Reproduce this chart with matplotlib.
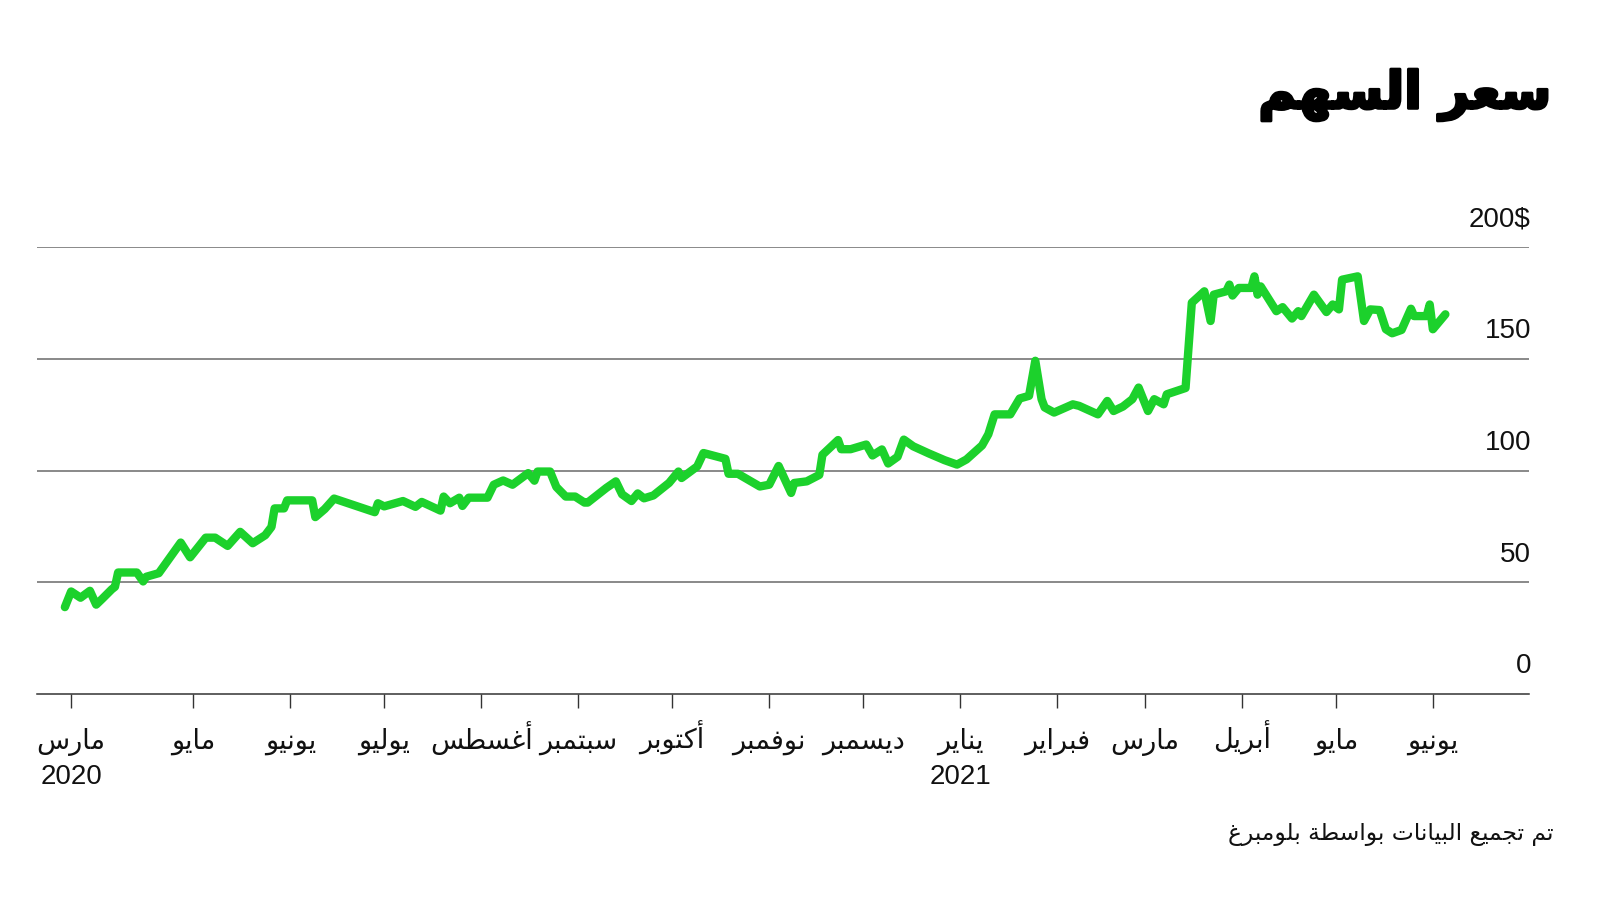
import matplotlib
matplotlib.use("Agg")
import matplotlib.pyplot as plt
import matplotlib.patheffects as pe
import pandas as pd

# ---------------- data ----------------
dates = [
    "2020-03-21", "2020-03-23", "2020-03-26", "2020-03-29", "2020-03-31",
    "2020-04-02", "2020-04-05", "2020-04-06", "2020-04-07", "2020-04-13",
    "2020-04-15", "2020-04-16", "2020-04-20", "2020-04-27", "2020-04-30",
    "2020-05-05", "2020-05-08", "2020-05-12", "2020-05-16", "2020-05-20",
    "2020-05-24", "2020-05-26", "2020-05-27", "2020-05-30", "2020-05-31",
    "2020-06-08", "2020-06-09", "2020-06-12", "2020-06-15", "2020-06-28",
    "2020-06-29", "2020-07-01", "2020-07-07", "2020-07-11", "2020-07-13",
    "2020-07-19", "2020-07-20", "2020-07-22", "2020-07-25", "2020-07-26",
    "2020-07-28", "2020-08-03", "2020-08-05", "2020-08-08", "2020-08-11",
    "2020-08-16", "2020-08-18", "2020-08-19", "2020-08-23", "2020-08-25",
    "2020-08-28", "2020-08-31", "2020-09-03", "2020-09-04", "2020-09-10",
    "2020-09-13", "2020-09-15", "2020-09-18", "2020-09-20", "2020-09-22",
    "2020-09-25", "2020-09-30", "2020-10-03", "2020-10-04", "2020-10-09",
    "2020-10-11", "2020-10-18", "2020-10-19", "2020-10-22", "2020-10-29",
    "2020-11-01", "2020-11-04", "2020-11-08", "2020-11-09", "2020-11-13",
    "2020-11-17", "2020-11-18", "2020-11-23", "2020-11-24", "2020-11-27",
    "2020-12-02", "2020-12-04", "2020-12-07", "2020-12-09", "2020-12-12",
    "2020-12-14", "2020-12-17", "2020-12-22", "2020-12-27", "2020-12-31",
    "2021-01-03", "2021-01-08", "2021-01-10", "2021-01-12", "2021-01-17",
    "2021-01-20", "2021-01-23", "2021-01-25", "2021-01-27", "2021-01-28",
    "2021-01-31", "2021-02-06", "2021-02-08", "2021-02-14", "2021-02-17",
    "2021-02-19", "2021-02-22", "2021-02-25", "2021-02-27", "2021-03-02",
    "2021-03-04", "2021-03-07", "2021-03-08", "2021-03-14", "2021-03-16",
    "2021-03-20", "2021-03-22", "2021-03-23", "2021-03-27", "2021-03-28",
    "2021-03-29", "2021-03-31", "2021-04-04", "2021-04-05", "2021-04-06",
    "2021-04-07", "2021-04-12", "2021-04-14", "2021-04-17", "2021-04-19",
    "2021-04-20", "2021-04-24", "2021-04-28", "2021-04-30", "2021-05-02",
    "2021-05-03", "2021-05-08", "2021-05-10", "2021-05-12", "2021-05-15",
    "2021-05-17", "2021-05-19", "2021-05-22", "2021-05-25", "2021-05-26",
    "2021-05-30", "2021-05-31", "2021-06-01", "2021-06-05",
]
prices = [
    38.9, 45.9, 43.1, 46.2, 40.0,
    42.7, 46.9, 48.0, 54.4, 54.4,
    50.4, 52.5, 54.1, 67.8, 61.2,
    70.0, 70.0, 66.3, 72.6, 67.5,
    71.1, 74.8, 83.1, 83.1, 86.7,
    86.7, 79.2, 82.8, 87.5, 81.4,
    85.4, 84.0, 86.4, 83.8, 86.0,
    82.1, 88.4, 85.4, 87.9, 84.2,
    87.9, 87.9, 93.7, 95.6, 93.7,
    98.9, 95.5, 99.6, 99.6, 92.7,
    88.4, 88.4, 85.7, 85.7, 92.3,
    95.2, 89.4, 86.4, 89.8, 87.6,
    88.9, 94.5, 99.6, 96.7, 101.9,
    107.9, 105.3, 98.6, 98.6, 92.9,
    93.7, 102.1, 90.0, 94.5, 95.2,
    98.1, 107.1, 113.7, 109.6, 109.6,
    111.7, 106.8, 109.5, 103.2, 106.2,
    113.9, 110.9, 107.7, 104.7, 102.7,
    105.0, 111.3, 116.3, 125.2, 125.2,
    132.3, 133.5, 149.2, 132.0, 128.3,
    126.0, 129.7, 129.0, 125.2, 131.2,
    126.7, 128.7, 132.0, 137.2, 126.7,
    132.0, 129.7, 134.2, 137.0, 175.2,
    180.3, 167.0, 178.8, 180.3, 183.3,
    178.4, 181.8, 181.8, 187.0, 178.8,
    182.5, 171.4, 173.2, 168.1, 171.4,
    169.2, 178.8, 171.0, 174.4, 172.2,
    185.5, 187.0, 167.0, 172.2, 171.9,
    163.3, 161.5, 163.0, 172.5, 169.2,
    169.2, 174.4, 163.3, 170.0,
]

tick_dates = [
    "2020-03-23", "2020-05-01", "2020-06-01", "2020-07-01", "2020-08-01",
    "2020-09-01", "2020-10-01", "2020-11-01", "2020-12-01", "2021-01-01",
    "2021-02-01", "2021-03-01", "2021-04-01", "2021-05-01", "2021-06-01",
]
month_names = [
    "مارس", "مايو", "يونيو", "يوليو", "أغسطس", "سبتمبر", "أكتوبر",
    "نوفمبر", "ديسمبر", "يناير", "فبراير", "مارس", "أبريل", "مايو", "يونيو",
]
year_labels = ["2020", "", "", "", "", "", "", "", "", "2021", "", "", "", "", ""]

y_values = [0, 50, 100, 150, 200]
y_labels = ["0", "50", "100", "150", "200$"]

title = "سعر السهم"
source = "تم تجميع البيانات بواسطة بلومبرغ"

# ---------------- Arabic shaping (presentation forms, visual order) -------
FORMS = {
    "\u0627": ("\uFE8D", "\uFE8E", None, None),
    "\u0623": ("\uFE83", "\uFE84", None, None),
    "\u0628": ("\uFE8F", "\uFE90", "\uFE91", "\uFE92"),
    "\u0629": ("\uFE93", "\uFE94", None, None),
    "\u062A": ("\uFE95", "\uFE96", "\uFE97", "\uFE98"),
    "\u062C": ("\uFE9D", "\uFE9E", "\uFE9F", "\uFEA0"),
    "\u062F": ("\uFEA9", "\uFEAA", None, None),
    "\u0631": ("\uFEAD", "\uFEAE", None, None),
    "\u0633": ("\uFEB1", "\uFEB2", "\uFEB3", "\uFEB4"),
    "\u0637": ("\uFEC1", "\uFEC2", "\uFEC3", "\uFEC4"),
    "\u0639": ("\uFEC9", "\uFECA", "\uFECB", "\uFECC"),
    "\u063A": ("\uFECD", "\uFECE", "\uFECF", "\uFED0"),
    "\u0641": ("\uFED1", "\uFED2", "\uFED3", "\uFED4"),
    "\u0643": ("\uFED9", "\uFEDA", "\uFEDB", "\uFEDC"),
    "\u0644": ("\uFEDD", "\uFEDE", "\uFEDF", "\uFEE0"),
    "\u0645": ("\uFEE1", "\uFEE2", "\uFEE3", "\uFEE4"),
    "\u0646": ("\uFEE5", "\uFEE6", "\uFEE7", "\uFEE8"),
    "\u0647": ("\uFEE9", "\uFEEA", "\uFEEB", "\uFEEC"),
    "\u0648": ("\uFEED", "\uFEEE", None, None),
    "\u064A": ("\uFEF1", "\uFEF2", "\uFEF3", "\uFEF4"),
}


def ar(text):
    chars = list(text)
    out = []
    for i, c in enumerate(chars):
        if c not in FORMS:
            out.append(c)
            continue
        prev = chars[i - 1] if i > 0 else None
        nxt = chars[i + 1] if i + 1 < len(chars) else None
        joins_prev = prev in FORMS and FORMS[prev][2] is not None
        joins_next = FORMS[c][2] is not None and nxt in FORMS
        iso, fin, ini, med = FORMS[c]
        if joins_prev and joins_next:
            out.append(med)
        elif joins_prev:
            out.append(fin)
        elif joins_next:
            out.append(ini)
        else:
            out.append(iso)
    return "".join(reversed(out))


FAM = ["Liberation Sans", "DejaVu Sans"]

# ---------------- figure ----------------
W, H = 1600, 900
fig = plt.figure(figsize=(16, 9), dpi=100)
fig.patch.set_facecolor("white")
ax_left, ax_right = 36.7, 1528.6
ax_top, ax_bottom = 247.3, 694.0
ax = fig.add_axes([ax_left / W, 1 - ax_bottom / H,
                   (ax_right - ax_left) / W, (ax_bottom - ax_top) / H])

x = pd.to_datetime(dates)
ax.plot(x, prices, color="#1CD12C", lw=6.0, solid_joinstyle="round",
        solid_capstyle="round", zorder=3)

ax.set_ylim(0, 200)
ax.set_xlim(pd.Timestamp("2020-03-12"), pd.Timestamp("2021-07-01 14:00"))

for sp in ["top", "left", "right"]:
    ax.spines[sp].set_visible(False)
ax.spines["bottom"].set_color("#333333")
ax.spines["bottom"].set_linewidth(1.1)
for v in y_values[1:]:
    ax.axhline(v, color="#6a6a6a", lw=1.1, zorder=1)

ax.set_yticks([])
tick_x = pd.to_datetime(tick_dates)
ax.set_xticks(tick_x)
ax.set_xticklabels([])
ax.tick_params(axis="x", length=10, width=1.0, color="#333333", pad=8)

# month labels (baseline-aligned) and years
PT = 72.0 / 100.0  # points per pixel
for tx, m, yr in zip(tick_x, month_names, year_labels):
    ax.annotate(ar(m), xy=(tx, 0), xycoords=("data", "axes fraction"),
                xytext=(0, -55 * PT), textcoords="offset points",
                ha="center", va="baseline", fontsize=19.5, family=FAM,
                color="#111111", annotation_clip=False)
    if yr:
        ax.annotate(yr, xy=(tx, 0), xycoords=("data", "axes fraction"),
                    xytext=(0, -90 * PT), textcoords="offset points",
                    ha="center", va="baseline", fontsize=20, family=FAM,
                    color="#111111", annotation_clip=False)

for v, lab in zip(y_values, y_labels):
    ax.annotate(lab, xy=(1.0016, v), xycoords=("axes fraction", "data"),
                xytext=(0, 20), textcoords="offset points",
                ha="right", va="center", fontsize=20, family=FAM,
                color="#111111", annotation_clip=False)

fig.text(1551 / W, 1 - 95 / H, ar(title), ha="right", va="center",
         fontsize=37, fontweight="bold", family=["DejaVu Sans"], color="black",
         path_effects=[pe.withStroke(linewidth=2.2, foreground="black")])
fig.text(1553 / W, 1 - 835 / H, ar(source), ha="right", va="center",
         fontsize=16.8, family=["DejaVu Sans"], color="#111111")

fig.savefig("out.png", dpi=100, facecolor="white")
